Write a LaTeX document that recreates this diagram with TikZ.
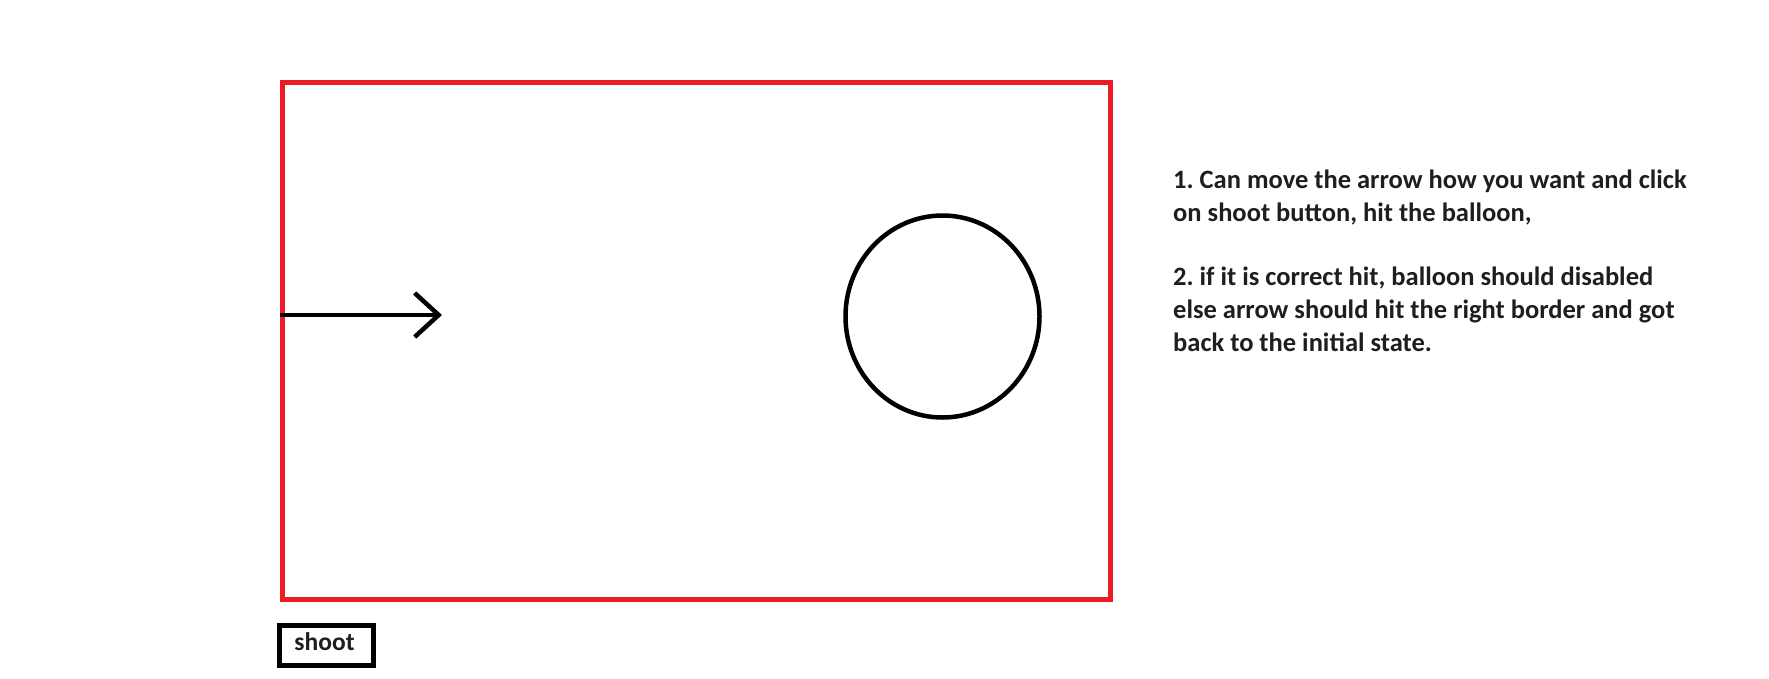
\documentclass[tikz,border=0pt]{standalone}
\usepackage{fontspec}
\setmainfont{Carlito}
\usepackage{xcolor}
\usetikzlibrary{arrows.meta,positioning,shapes.geometric}
\definecolor{paintred}{HTML}{ED1C24}
\definecolor{inkgray}{HTML}{1E1E1E}
\frenchspacing

\begin{document}
\begin{tikzpicture}[x=1pt, y=-1pt,
    frame/.style={draw=paintred, line width=5pt, rectangle,
                  minimum width=828pt, minimum height=517pt, inner sep=0pt},
    balloon/.style={draw, ellipse, line width=4.5pt,
                    minimum width=194pt, minimum height=202pt, inner sep=0pt},
    button/.style={draw, line width=5pt, minimum width=94pt, minimum height=40pt,
                   inner sep=0pt, font=\fontsize{25.5}{28}\selectfont\bfseries,
                   text=inkgray},
    note/.style={align=left, anchor=north west, inner sep=0pt, text=inkgray,
                 font=\fontsize{26.5}{33}\selectfont\bfseries},
    shot/.style={-{Straight Barb[length=24pt, width=44pt]}, line width=4.5pt},
  ]
    \useasboundingbox (0,0) rectangle (1769,678);
    \node[frame] (field) at (696.5, 341.25) {};
    \node[balloon] (ball) at (942.5, 316.5) {};
    \coordinate (tip) at (442, 315);
    \draw[shot] (field.west |- tip) -- (tip);
    \node[button] (shoot) at (326.5, 645.5) {\raisebox{8pt}{shoot}\hspace*{4pt}};
    \node[note] (rules) at (1173, 170) {1. Can move the arrow how you want and click \\
      on shoot button, hit the balloon, \\[31pt]
      2. if it is correct hit, balloon should disabled \\
      else arrow should hit the right border and got \\
      back to the initial state.};
  \end{tikzpicture}
\end{document}
